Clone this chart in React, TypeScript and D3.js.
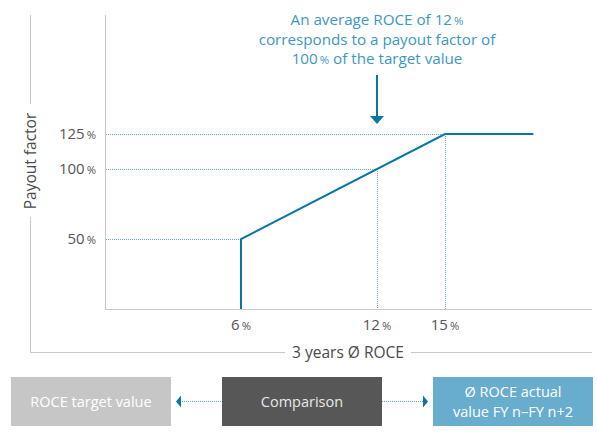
import { useEffect, useRef } from 'react';
import * as d3 from 'd3';

// ROCE (%) vs payout factor (%)
const roceValues = [6, 6, 15, 18.9];
const payoutValues = [0, 50, 125, 125];
const xTicks = [6, 12, 15];
const yTicks = [50, 100, 125];
// dotted guides: [roce, payout]
const guidePoints: [number, number][] = [[6, 50], [12, 100], [15, 125]];
const noteLines = ['An average ROCE of 12 %', 'corresponds to a payout factor of', '100 % of the target value'];
const boxLabels = [['ROCE target value'], ['Comparison'], ['Ø ROCE actual', 'value FY n–FY n+2']];
const boxColors = ['#c6c6c6', '#575757', '#68acce'];
const boxTextColors = ['#ffffff', '#e8e8e8', '#ffffff'];

const FONT = '"Open Sans", "Noto Sans", sans-serif';
const BLUE = '#0a76a6';
const LIGHT_BLUE = '#5aaed2';
const GREY = '#c9c9c9';

function pctText(sel: d3.Selection<SVGTextElement, any, any, any>, num: string, rest = '') {
  sel.append('tspan').text(num);
  sel.append('tspan').attr('font-size', '0.75em').attr('dx', 2).text('%');
  if (rest) sel.append('tspan').text(rest);
}

export default function App() {
  const svgRef = useRef<SVGSVGElement>(null);

  useEffect(() => {
    if (!svgRef.current) return;
    const svg = d3.select(svgRef.current);
    svg.selectAll('*').remove();

    const W = 597;
    const H = 448;
    svg.attr('width', W).attr('height', H).attr('viewBox', `0 0 ${W} ${H}`);

    const x = d3.scaleLinear().domain([0, 6]).range([105, 241]);
    const y = d3.scaleLinear().domain([0, 125]).range([309, 134]);

    // outer frame with axis titles
    svg.append('line').attr('x1', 30.5).attr('x2', 30.5).attr('y1', 15).attr('y2', 104).attr('stroke', GREY);
    svg.append('line').attr('x1', 30.5).attr('x2', 30.5).attr('y1', 217).attr('y2', 352.5).attr('stroke', GREY);
    svg.append('line').attr('x1', 30).attr('x2', 285).attr('y1', 352.5).attr('y2', 352.5).attr('stroke', GREY);
    svg.append('line').attr('x1', 411).attr('x2', 592).attr('y1', 352.5).attr('y2', 352.5).attr('stroke', GREY);

    svg.append('text')
      .attr('transform', `translate(36, 161) rotate(-90)`)
      .attr('text-anchor', 'middle')
      .attr('font-family', FONT)
      .attr('font-size', 15.5)
      .attr('fill', '#4a4a4a')
      .text('Payout factor');

    svg.append('text')
      .attr('x', 348)
      .attr('y', 358)
      .attr('text-anchor', 'middle')
      .attr('font-family', FONT)
      .attr('font-size', 15.5)
      .attr('fill', '#4a4a4a')
      .text('3 years Ø ROCE');

    // inner axes
    svg.append('line').attr('x1', x(0) + 0.5).attr('x2', x(0) + 0.5).attr('y1', 15).attr('y2', y(0)).attr('stroke', GREY);
    svg.append('line').attr('x1', x(0)).attr('x2', 592).attr('y1', y(0) + 0.5).attr('y2', y(0) + 0.5).attr('stroke', GREY);

    // dotted guides
    const g = svg.append('g').attr('stroke', LIGHT_BLUE).attr('stroke-width', 1).attr('stroke-dasharray', '1 1');
    guidePoints.forEach(([r, p]) => {
      g.append('line').attr('x1', x(0) + 1).attr('x2', x(r)).attr('y1', y(p) + 0.5).attr('y2', y(p) + 0.5);
      if (r !== 6) g.append('line').attr('x1', x(r) + 0.5).attr('x2', x(r) + 0.5).attr('y1', y(p)).attr('y2', y(0));
    });

    // payout curve
    const line = d3.line<number>().x((_, i) => x(roceValues[i])).y((d) => y(d));
    svg.append('path')
      .datum(payoutValues)
      .attr('d', line)
      .attr('fill', 'none')
      .attr('stroke', BLUE)
      .attr('stroke-width', 2);

    // tick labels
    yTicks.forEach((t) => {
      const tx = svg.append('text')
        .attr('x', 96)
        .attr('y', y(t) + 5)
        .attr('text-anchor', 'end')
        .attr('font-family', FONT)
        .attr('font-size', 15)
        .attr('fill', '#555');
      pctText(tx, String(t));
    });
    xTicks.forEach((t) => {
      const tx = svg.append('text')
        .attr('x', x(t))
        .attr('y', 330)
        .attr('text-anchor', 'middle')
        .attr('font-family', FONT)
        .attr('font-size', 15)
        .attr('fill', '#555');
      pctText(tx, String(t));
    });

    // annotation
    noteLines.forEach((l, i) => {
      const tx = svg.append('text')
        .attr('x', x(12))
        .attr('y', 25 + i * 19.5)
        .attr('text-anchor', 'middle')
        .attr('font-family', FONT)
        .attr('font-size', 15.2)
        .attr('fill', '#3b98c3');
      const m = l.match(/^(.*?)(\d+) %(.*)$/);
      if (m) {
        if (m[1]) tx.append('tspan').text(m[1]);
        pctText(tx, m[2], m[3]);
      } else tx.text(l);
    });
    svg.append('line').attr('x1', x(12)).attr('x2', x(12)).attr('y1', 75).attr('y2', 118).attr('stroke', BLUE).attr('stroke-width', 2);
    svg.append('path')
      .attr('d', `M${x(12) - 7},116 L${x(12) + 7},116 L${x(12)},124 Z`)
      .attr('fill', BLUE);

    // bottom boxes
    const boxX = [11, 222, 433];
    const boxW = 160;
    const boxY = 377;
    const boxH = 49;
    boxLabels.forEach((lines, i) => {
      svg.append('rect').attr('x', boxX[i]).attr('y', boxY).attr('width', boxW).attr('height', boxH).attr('fill', boxColors[i]);
      lines.forEach((l, j) => {
        svg.append('text')
          .attr('x', boxX[i] + boxW / 2)
          .attr('y', boxY + boxH / 2 + 5.5 + (j - (lines.length - 1) / 2) * 19.5)
          .attr('text-anchor', 'middle')
          .attr('font-family', FONT)
          .attr('font-size', 14.5)
          .attr('fill', boxTextColors[i])
          .text(l);
      });
    });

    // connectors
    const cy = boxY + boxH / 2;
    const conn = svg.append('g').attr('stroke', LIGHT_BLUE).attr('stroke-dasharray', '1 1');
    conn.append('line').attr('x1', 180).attr('x2', 222).attr('y1', cy).attr('y2', cy);
    conn.append('line').attr('x1', 382).attr('x2', 424).attr('y1', cy).attr('y2', cy);
    svg.append('path').attr('d', `M176,${cy} L181,${cy - 6} L181,${cy + 6} Z`).attr('fill', BLUE);
    svg.append('path').attr('d', `M428,${cy} L423,${cy - 6} L423,${cy + 6} Z`).attr('fill', BLUE);
  }, []);

  return (
    <div style={{ position: 'absolute', left: 0, top: 0, width: 597, height: 448, background: '#fff' }}>
      <svg ref={svgRef} style={{ display: 'block' }} />
    </div>
  );
}
